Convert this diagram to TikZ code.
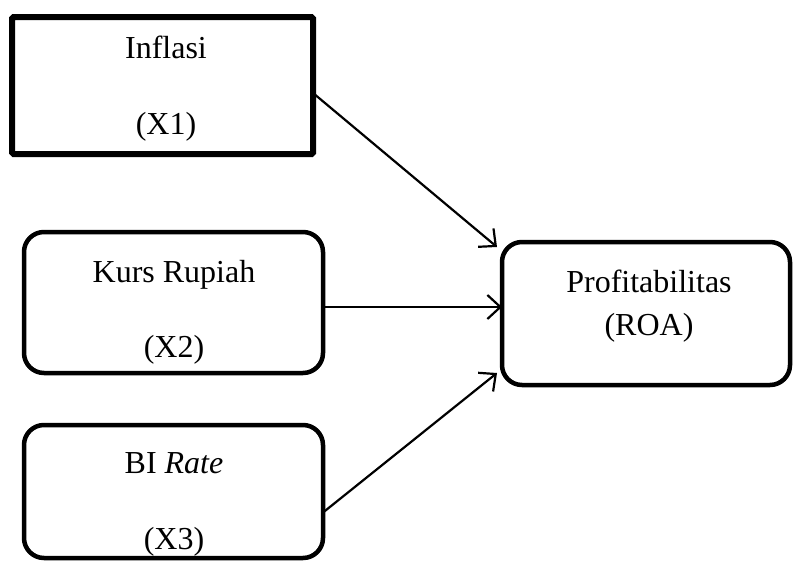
\documentclass[tikz,border=0pt]{standalone}
\usepackage{fontspec}
\setmainfont{Liberation Serif}
\usetikzlibrary{arrows.meta}
\begin{document}
\begin{tikzpicture}[x=1pt,y=-1pt,
  box/.style={draw,line width=4.5pt,rounded corners=20pt,inner sep=0pt,outer sep=0pt},
  sqbox/.style={draw,line width=6pt,rounded corners=1.5pt,inner sep=0pt,outer sep=0pt},
  lbl/.style={anchor=base,inner sep=0pt,font=\fontsize{32}{38}\selectfont},
  arr/.style={line width=2.2pt,-{Straight Barb[length=13pt,width=24pt,line width=2.2pt]}}]
\useasboundingbox (0,0) rectangle (794,562);
\node[sqbox,minimum width=301pt,minimum height=137pt] (b1) at (162.5,85.5) {};
\node[box,minimum width=299pt,minimum height=141pt] (b2) at (173.5,302.5) {};
\node[box,minimum width=299pt,minimum height=133pt] (b3) at (173.5,491.5) {};
\node[box,minimum width=288pt,minimum height=143pt] (b4) at (646,313.5) {};
\node[lbl] (t1a) at (166,58) {Inflasi};
\node[lbl] (t1b) at (166,134) {(X1)};
\node[lbl] (t2a) at (174,282) {Kurs Rupiah};
\node[lbl] (t2b) at (174,357) {(X2)};
\node[lbl] (t3a) at (174,473) {BI \textit{Rate}};
\node[lbl] (t3b) at (174,549) {(X3)};
\node[lbl] (t4a) at (649,292) {Profitabilitas};
\node[lbl] (t4b) at (649,335) {(ROA)};
\draw[arr] ([yshift=-7.5pt]b1.east) -- ([xshift=-5pt,yshift=-5pt]b4.north west);
\draw[arr] ([yshift=-4.5pt]b2.east) -- ([yshift=-4.5pt]b2.east -| b4.west);
\draw[arr] ([yshift=-21pt]b3.east) -- ([xshift=-5pt,yshift=12pt]b4.south west);
\end{tikzpicture}
\end{document}
